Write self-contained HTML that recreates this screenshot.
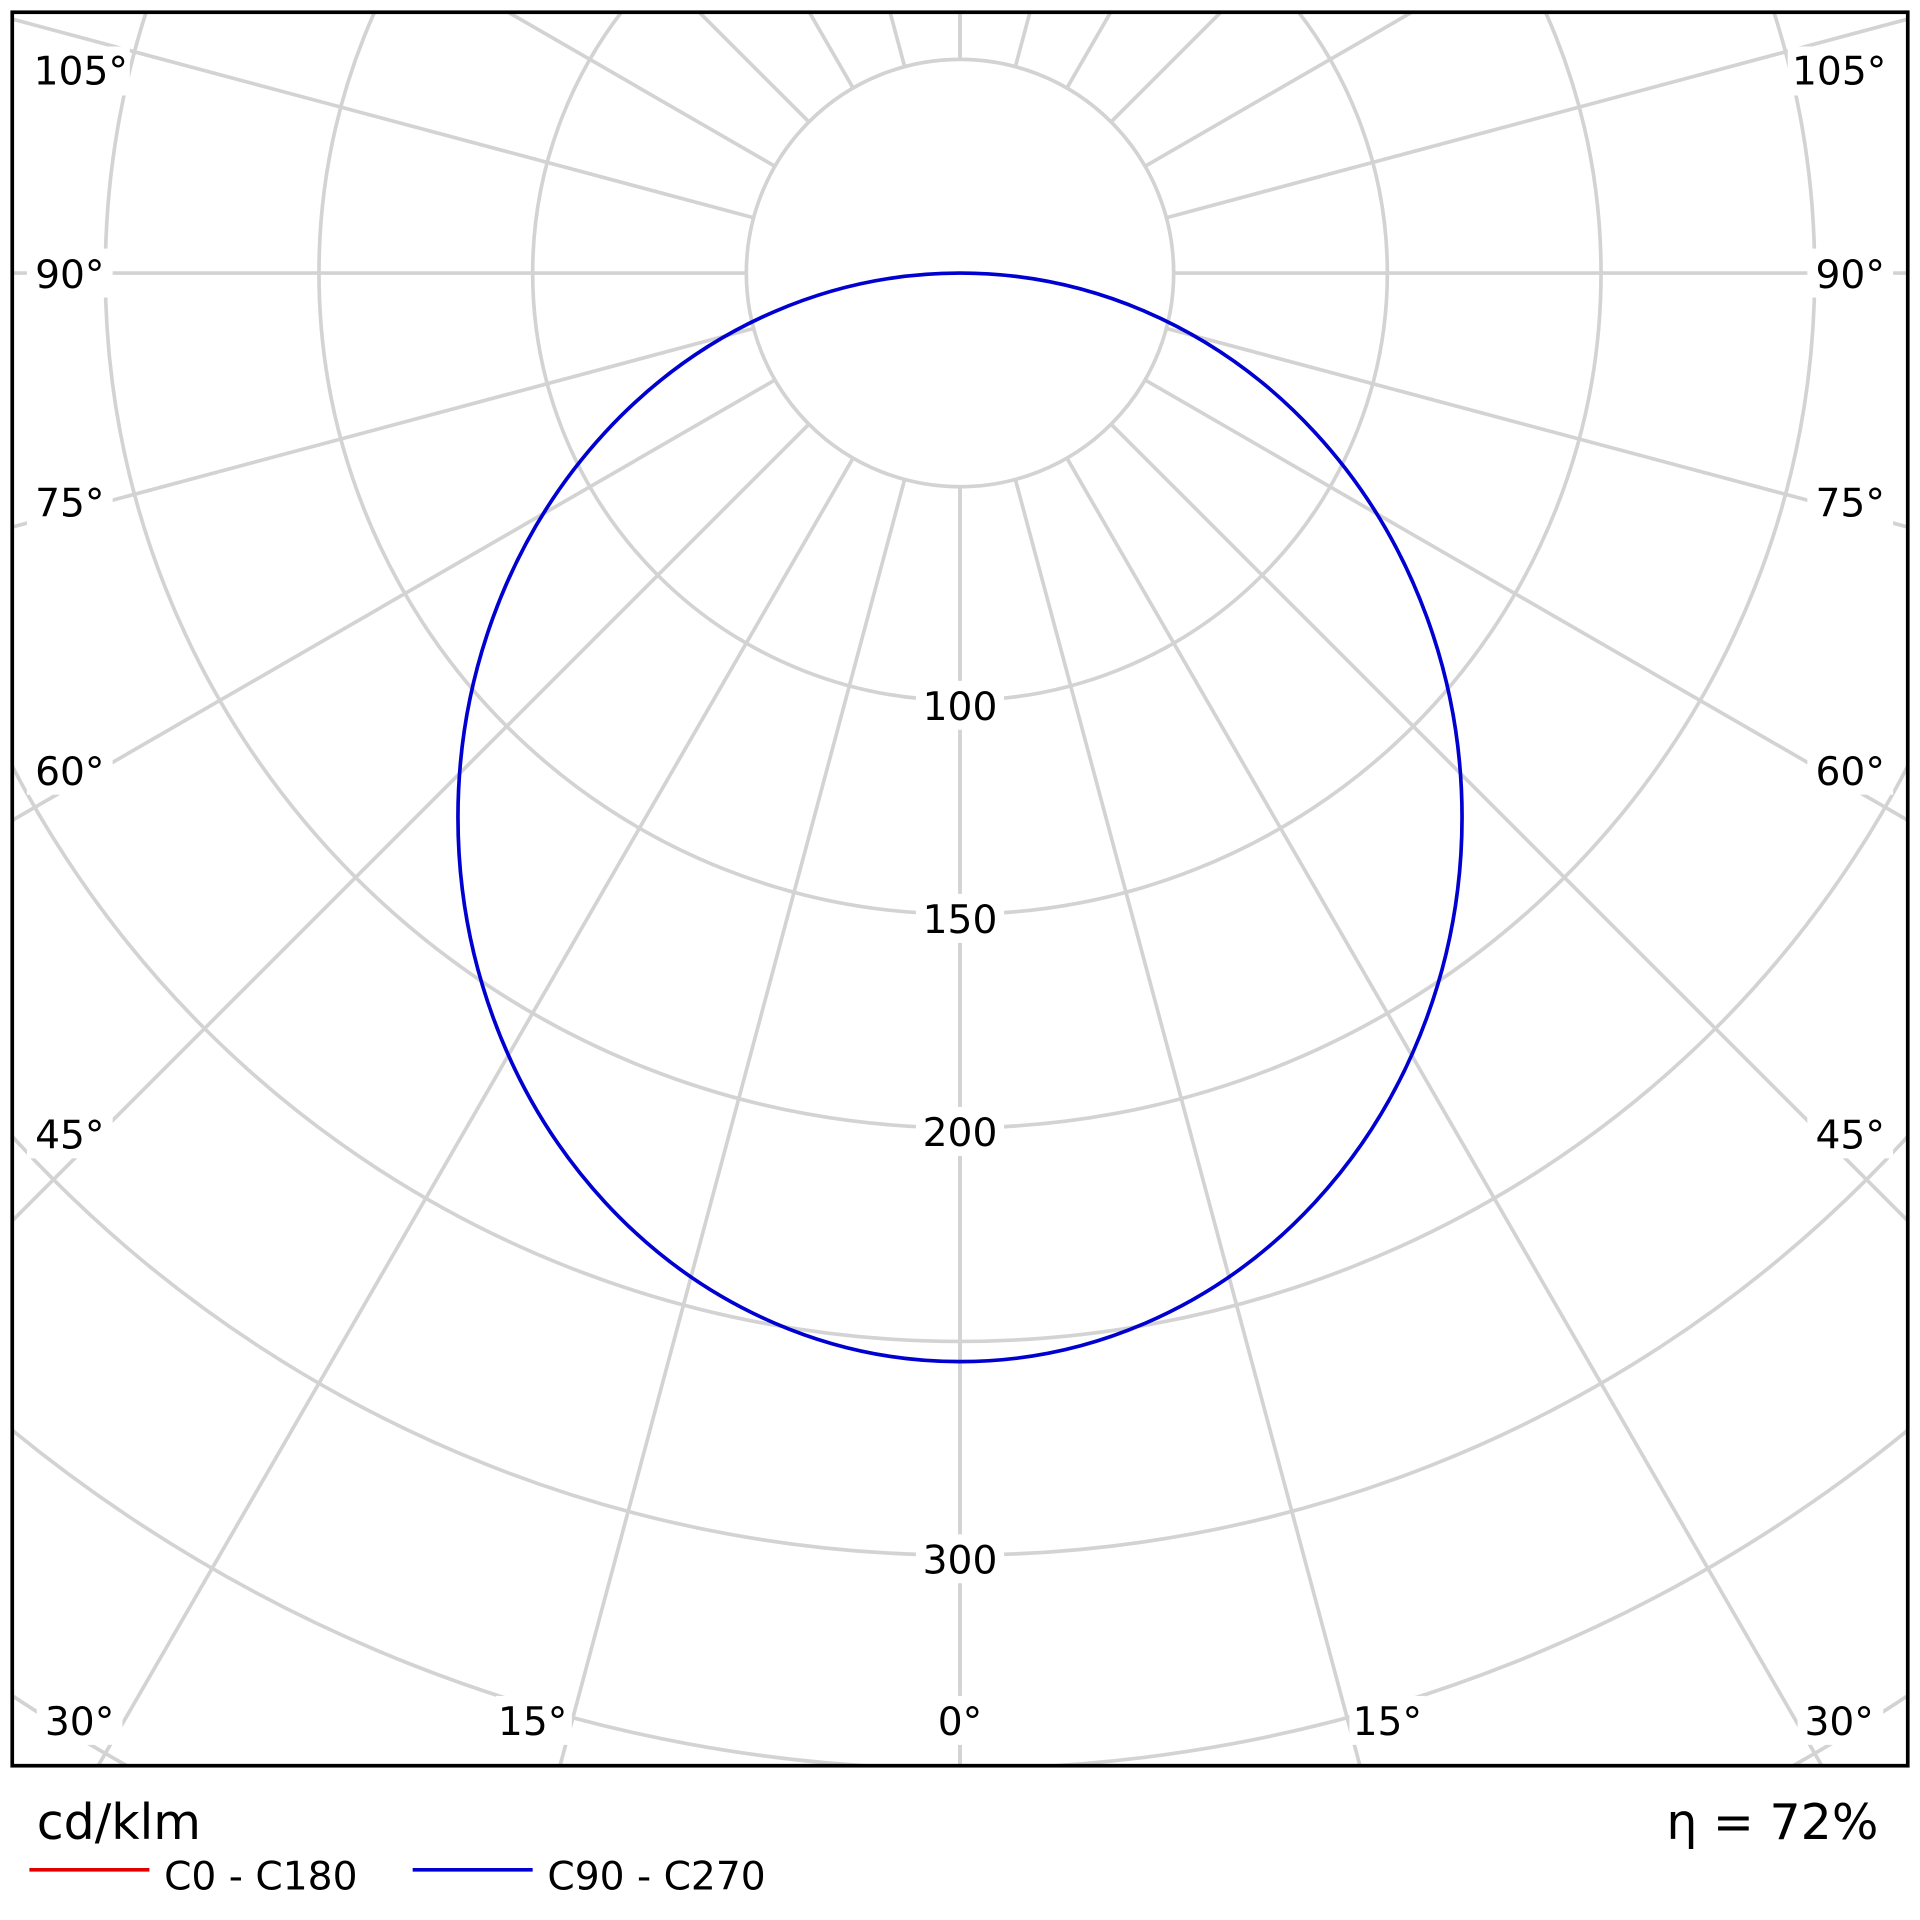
<!DOCTYPE html>
<html><head><meta charset="utf-8"><style>
html,body{margin:0;padding:0;background:#fff;width:1920px;height:1920px;overflow:hidden;}
svg{display:block;}
text{font-family:"DejaVu Sans","Liberation Sans",sans-serif;fill:#000;}
</style></head><body>
<svg width="1920" height="1920" viewBox="0 0 1568 1568" xmlns="http://www.w3.org/2000/svg">
<defs><clipPath id="c"><rect x="10" y="10" width="1548" height="1432"/></clipPath></defs>
<rect width="1568" height="1568" fill="#fff"/>
<g clip-path="url(#c)" stroke="#d3d3d3" stroke-width="3" fill="none">
<circle cx="784" cy="223" r="174.5"/>
<circle cx="784" cy="223" r="349"/>
<circle cx="784" cy="223" r="523.5"/>
<circle cx="784" cy="223" r="698"/>
<circle cx="784" cy="223" r="872.5"/>
<circle cx="784" cy="223" r="1047"/>
<circle cx="784" cy="223" r="1221.5"/>
<circle cx="784" cy="223" r="1396"/>
<circle cx="784" cy="223" r="1570.5"/>
<g id="rays">
<line x1="784" y1="397.5" x2="784" y2="2223"/>
<line x1="829.2" y1="391.5" x2="1301.6" y2="2154.8"/>
<line x1="871.3" y1="374.1" x2="1784" y2="1955"/>
<line x1="907.4" y1="346.4" x2="2198" y2="1637"/>
<line x1="935.1" y1="310.3" x2="2516" y2="1223"/>
<line x1="952.5" y1="268.2" x2="2715.8" y2="740.6"/>
<line x1="958.5" y1="223" x2="2784" y2="223"/>
<line x1="952.5" y1="177.8" x2="2715.8" y2="-294.6"/>
<line x1="935.1" y1="135.8" x2="2516" y2="-777"/>
<line x1="907.4" y1="99.6" x2="2198" y2="-1191"/>
<line x1="871.3" y1="71.9" x2="1784" y2="-1509"/>
<line x1="829.2" y1="54.5" x2="1301.6" y2="-1708.8"/>
<line x1="784" y1="48.5" x2="784" y2="-1777"/>
</g>
<use href="#rays" transform="translate(1568,0) scale(-1,1)"/>
</g>
<g fill="#fff">
<rect x="748" y="556" width="72" height="40"/>
<rect x="748" y="730" width="72" height="40"/>
<rect x="748" y="904" width="72" height="40"/>
<rect x="748" y="1253" width="72" height="40"/>
<rect x="758" y="1385" width="52" height="40"/>
<rect x="405" y="1385" width="62" height="40"/>
<rect x="1102" y="1385" width="62" height="40"/>
<rect x="30" y="1385" width="70" height="40"/>
<rect x="1468" y="1385" width="70" height="40"/>
<rect x="22" y="38" width="84" height="40"/>
<rect x="1460" y="38" width="84" height="40"/>
<rect x="22" y="203" width="70" height="40"/>
<rect x="1476" y="203" width="70" height="40"/>
<rect x="22" y="390" width="70" height="40"/>
<rect x="1476" y="390" width="70" height="40"/>
<rect x="22" y="609" width="70" height="40"/>
<rect x="1476" y="609" width="70" height="40"/>
<rect x="22" y="906" width="70" height="40"/>
<rect x="1476" y="906" width="70" height="40"/>
</g>
<ellipse cx="784" cy="667.5" rx="410" ry="444.5" fill="none" stroke="#0000d0" stroke-width="3"/>
<rect x="10" y="10" width="1548" height="1432" fill="none" stroke="#000" stroke-width="3"/>
<g font-size="32" text-anchor="middle">
<text x="784" y="588">100</text>
<text x="784" y="762">150</text>
<text x="784" y="936">200</text>
<text x="784" y="1285">300</text>
<text x="784" y="1417">0°</text>
<text x="435" y="1417">15°</text>
<text x="1133" y="1417">15°</text>
<text x="65" y="1417">30°</text>
<text x="1502" y="1417">30°</text>
<text x="66" y="69">105°</text>
<text x="1502" y="69">105°</text>
<text x="57" y="235">90°</text>
<text x="1511" y="235">90°</text>
<text x="57" y="422">75°</text>
<text x="1511" y="422">75°</text>
<text x="57" y="641">60°</text>
<text x="1511" y="641">60°</text>
<text x="57" y="938">45°</text>
<text x="1511" y="938">45°</text>
</g>
<text x="30" y="1502" font-size="40">cd/klm</text>
<text x="1534" y="1502" font-size="40" text-anchor="end">η = 72%</text>
<line x1="24" y1="1527" x2="122" y2="1527" stroke="#e00000" stroke-width="3"/>
<text x="134" y="1543" font-size="32">C0 - C180</text>
<line x1="337" y1="1527" x2="435" y2="1527" stroke="#0000d0" stroke-width="3"/>
<text x="447" y="1543" font-size="32">C90 - C270</text>
</svg>
</body></html>
